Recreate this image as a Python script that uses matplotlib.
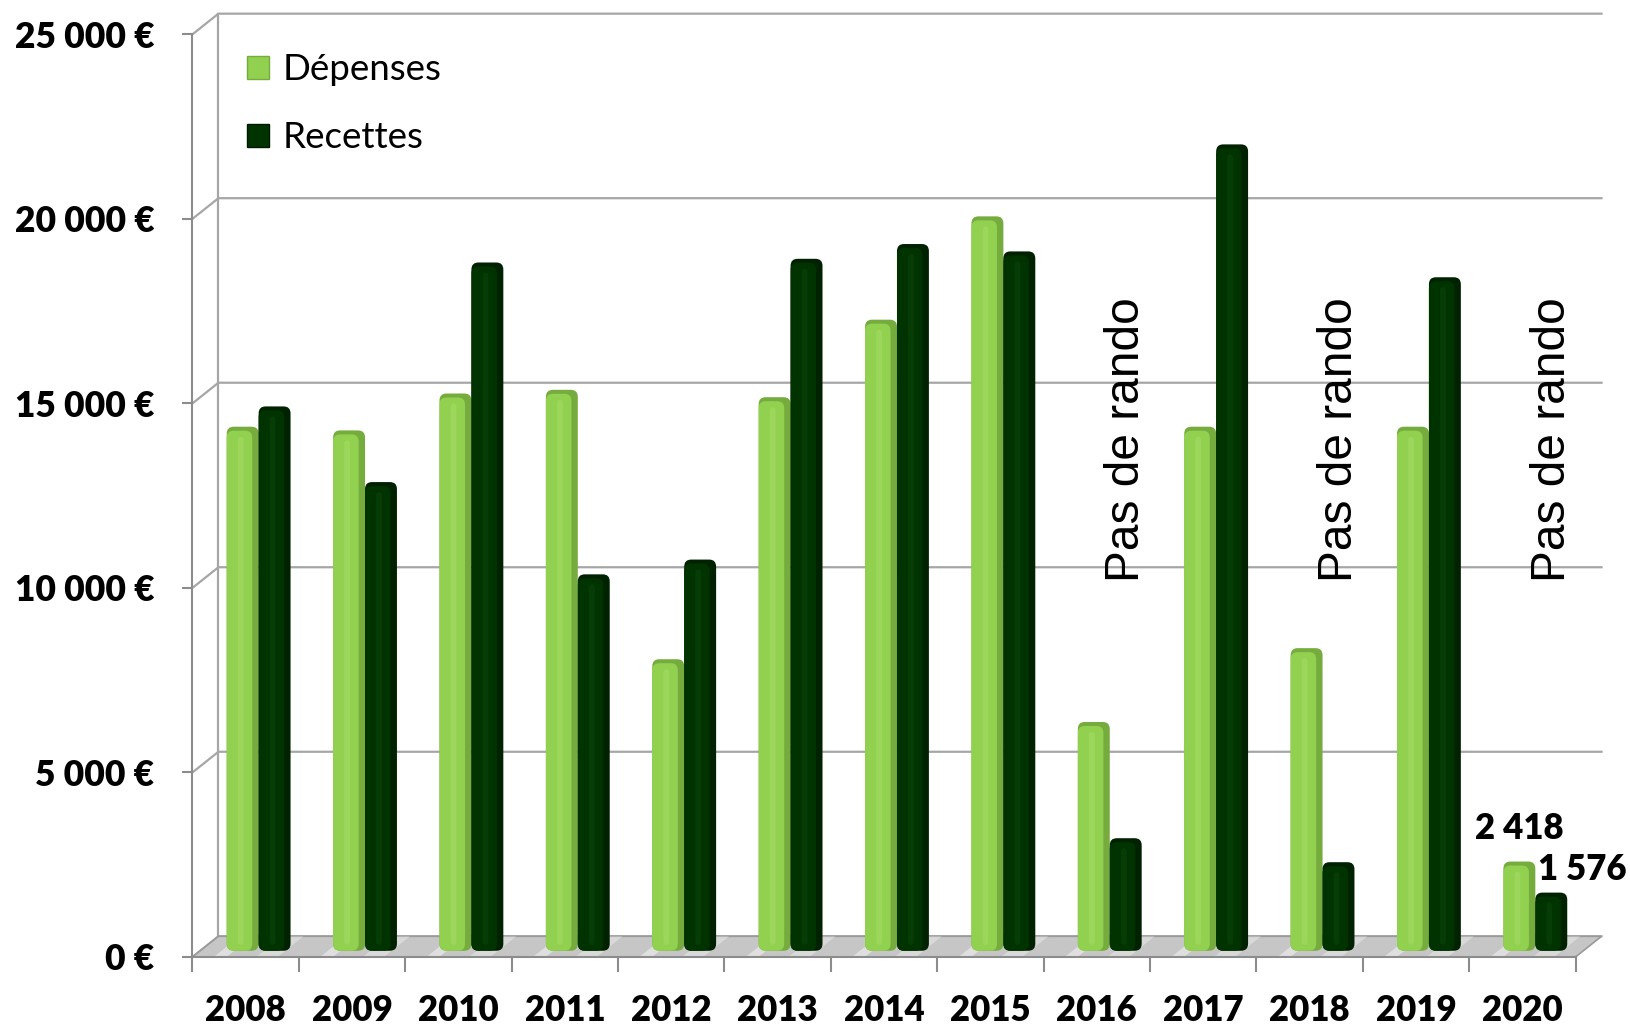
import numpy as np
import matplotlib
matplotlib.use("Agg")
import matplotlib.pyplot as plt
from matplotlib.patches import FancyBboxPatch, Polygon, Patch

# ── data ─────────────────────────────────────
annees   = ["2008", "2009", "2010", "2011", "2012", "2013", "2014",
            "2015", "2016", "2017", "2018", "2019", "2020"]
depenses = [14200, 14100, 15100, 15200, 7900, 15000, 17100,
            19900, 6200, 14200, 8200, 14200, 2418]
recettes = [14750, 12700, 18650, 10200, 10600, 18750, 19150,
            18950, 3050, 21850, 2400, 18250, 1576]
pas_de_rando = ["2016", "2018", "2020"]
labels_annee = "2020"
yticks = [0, 5000, 10000, 15000, 20000, 25000]

# ── style ────────────────────────────────────
LIGHT = "#92D050"; LIGHT_SIDE = "#76AC3E"; LIGHT_HI = "#A9E06C"
DARK  = "#003300"; DARK_SIDE  = "#002200"; DARK_HI  = "#0E4A0E"
GRID  = "#A6A6A6"; AXIS = "#8C8C8C"
FONT  = "Lato"
BOLD  = "heavy"

W, H = 1631, 1028
fig = plt.figure(figsize=(W / 100, H / 100), dpi=100)
ax = fig.add_axes([0.118, 0.0691, 0.848, 0.8975])

n = len(annees)
x = np.arange(n)
ax.set_xlim(-0.5, n - 0.5)
ax.set_ylim(0, 25000)

# pseudo 3D depth (back wall offset)
dx, dy = 0.244, 560
# data units per pixel, used to keep the rounded corners round
ux = n / (0.848 * W)
uy = 25000 / (0.8975 * H)

# back wall gridlines + side wall diagonals
for v in yticks:
    ax.plot([-0.5, -0.5 + dx, n - 0.5 + dx], [v, v + dy, v + dy], color=GRID,
            lw=1.6, clip_on=False, zorder=1)
ax.plot([-0.5 + dx, -0.5 + dx], [dy, 25000 + dy], color=GRID, lw=1.6,
        clip_on=False, zorder=1)

# floor
floor = Polygon([(-0.5, 0), (-0.5 + dx, dy), (n - 0.5 + dx, dy), (n - 0.5, 0)],
                closed=True, facecolor="#C6C6C6", edgecolor="#9A9A9A", lw=1.2,
                clip_on=False, zorder=2)
ax.add_patch(floor)
for k in range(n):
    for off, wd, al in [(-0.3, 0.12, 0.45), (0.1, 0.2, 0.35)]:
        streak = Polygon([(k + off, 0), (k + off + dx, dy),
                          (k + off + wd + dx, dy), (k + off + wd, 0)],
                         closed=True, facecolor="white", alpha=al, lw=0,
                         clip_on=False, zorder=2)
        ax.add_patch(streak)

# bars
bw = 0.3
base = dy * 0.3
shift = dx / 2


def draw_bars(xpos, vals, face, side, hi):
    rects = ax.bar(xpos, vals, width=bw, bottom=base, color=face)
    r = 7 * ux
    asp = uy / ux
    for rect in rects:
        x0, y0 = rect.get_x(), rect.get_y()
        w, h = rect.get_width(), rect.get_height()
        rect.set_visible(False)
        body = FancyBboxPatch((x0, y0), w, h,
                              boxstyle=f"round,pad=0,rounding_size={r}",
                              mutation_aspect=asp, facecolor=side,
                              edgecolor="none", zorder=3, clip_on=False)
        ax.add_patch(body)
        front = FancyBboxPatch((x0, y0), w * 0.8, h - 4 * uy,
                               boxstyle=f"round,pad=0,rounding_size={r}",
                               mutation_aspect=asp, facecolor=face,
                               edgecolor="none", zorder=4, clip_on=False)
        ax.add_patch(front)
        ax.add_patch(FancyBboxPatch((x0 + w * 0.35, y0 + 6 * uy), w * 0.18, h - 16 * uy,
                                    boxstyle=f"round,pad=0,rounding_size={3 * ux}",
                                    mutation_aspect=asp, facecolor=hi, alpha=0.45,
                                    edgecolor="none", zorder=5, clip_on=False))
    return rects


bars_d = draw_bars(x + shift - bw / 2, depenses, LIGHT, LIGHT_SIDE, LIGHT_HI)
bars_r = draw_bars(x + shift + bw / 2, recettes, DARK, DARK_SIDE, DARK_HI)

# "Pas de rando"
for a in pas_de_rando:
    i = annees.index(a)
    ax.text(i + 0.28, 10150, "Pas de rando", rotation=90, ha="center",
            va="bottom", fontsize=34.5, family="Liberation Sans", zorder=6)

# data labels for the last year
i = annees.index(labels_annee)
ax.annotate(f"{depenses[i]:,}".replace(",", " "),
            (i + shift - bw / 2, depenses[i] + base), xytext=(0, 12),
            textcoords="offset points", ha="center", va="bottom",
            fontsize=25, fontweight=BOLD, family=FONT, zorder=7,
            annotation_clip=False)
ax.annotate(f"{recettes[i]:,}".replace(",", " "),
            (i + shift + bw / 2, recettes[i] + base), xytext=(22, 5),
            textcoords="offset points", ha="center", va="bottom",
            fontsize=25, fontweight=BOLD, family=FONT, zorder=7,
            annotation_clip=False)

# axes
for s in ["top", "right"]:
    ax.spines[s].set_visible(False)
for s in ["left", "bottom"]:
    ax.spines[s].set_color(AXIS)
    ax.spines[s].set_linewidth(1.5)
    ax.spines[s].set_zorder(2.5)
ax.set_facecolor("none")

ax.set_yticks(yticks)
ax.set_yticklabels([f"{v:,}".replace(",", " ") + " €" for v in yticks],
                   fontsize=25.5, fontweight=BOLD, family=FONT)
ax.tick_params(axis="y", length=7.5, width=1.5, color=AXIS, pad=20)

ax.set_xticks(np.arange(-0.5, n, 1.0))
ax.set_xticklabels([])
ax.tick_params(axis="x", which="major", length=11, width=1.5, color=AXIS)
ax.set_xticks(x, minor=True)
ax.set_xticklabels(annees, minor=True, fontsize=25, fontweight=BOLD, family=FONT)
ax.tick_params(axis="x", which="minor", length=0, pad=27)

fig.legend(handles=[Patch(facecolor=LIGHT, edgecolor=LIGHT_SIDE, label="Dépenses"),
                    Patch(facecolor=DARK, edgecolor="#001A00", label="Recettes")],
           loc="upper left", bbox_to_anchor=(0.1514, 0.948), frameon=False,
           prop={"family": FONT, "size": 26.5}, handlelength=0.6,
           handleheight=0.6, handletextpad=0.36, labelspacing=0.95,
           borderpad=0, borderaxespad=0)

fig.savefig("out.png", dpi=100)
